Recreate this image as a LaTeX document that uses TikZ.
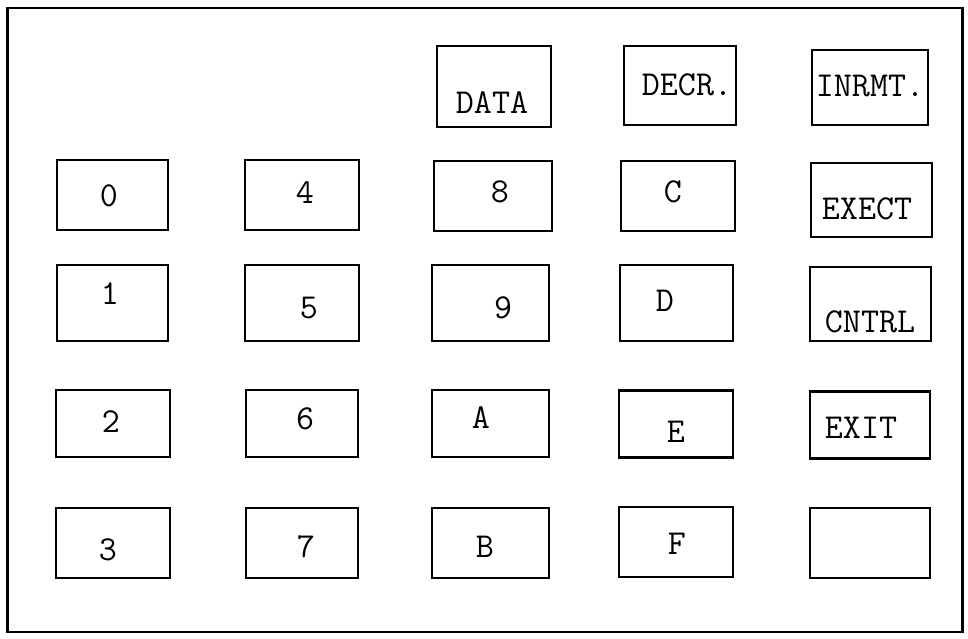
\documentclass[tikz,border=0pt]{standalone}
\begin{document}
\begin{tikzpicture}[x=1pt,y=-1pt,
  keybox/.style={draw, line width=2.3pt, inner sep=0pt, outer sep=0pt},
  keytxt/.style={inner sep=0pt, font=\ttfamily\fontsize{35}{35}\selectfont}]
\useasboundingbox (0,0) rectangle (968,639);
\node[draw, line width=2.8pt, minimum width=955pt, minimum height=624pt, inner sep=0pt] (frame) at (485,320) {};
% top row
\node[keybox, minimum width=114pt, minimum height=81pt] (kdata) at (494,86.5) {};
\node[keybox, minimum width=112pt, minimum height=79pt] (kdecr) at (680,85.5) {};
\node[keybox, minimum width=116pt, minimum height=75pt] (kinrmt) at (870,87.5) {};
% row 1
\node[keybox, minimum width=111pt, minimum height=70pt] (k0) at (112.5,195) {};
\node[keybox, minimum width=114pt, minimum height=70pt] (k4) at (302,195) {};
\node[keybox, minimum width=118pt, minimum height=70pt] (k8) at (493,196) {};
\node[keybox, minimum width=114pt, minimum height=70pt] (kC) at (678,196) {};
\node[keybox, minimum width=121pt, minimum height=74pt] (kexect) at (871.5,200) {};
% row 2
\node[keybox, minimum width=111pt, minimum height=76pt] (k1) at (112.5,303) {};
\node[keybox, minimum width=114pt, minimum height=76pt] (k5) at (302,303) {};
\node[keybox, minimum width=117pt, minimum height=76pt] (k9) at (490.5,303) {};
\node[keybox, minimum width=113pt, minimum height=76pt] (kD) at (676.5,303) {};
\node[keybox, minimum width=121pt, minimum height=74pt] (kcntrl) at (870.5,304) {};
% row 3
\node[keybox, minimum width=114pt, minimum height=67pt] (k2) at (113,423.5) {};
\node[keybox, minimum width=112pt, minimum height=67pt] (k6) at (302,423.5) {};
\node[keybox, minimum width=117pt, minimum height=67pt] (kA) at (490.5,423.5) {};
\node[keybox, minimum width=114pt, minimum height=67pt] (kE) at (676,424) {};
\node[keybox, minimum width=120pt, minimum height=67pt] (kexit) at (870,425) {};
% row 4
\node[keybox, minimum width=114pt, minimum height=70pt] (k3) at (113,543) {};
\node[keybox, minimum width=112pt, minimum height=70pt] (k7) at (302,543) {};
\node[keybox, minimum width=117pt, minimum height=70pt] (kB) at (490.5,543) {};
\node[keybox, minimum width=114pt, minimum height=70pt] (kF) at (676,542) {};
\node[keybox, minimum width=120pt, minimum height=70pt] (kblank) at (870,543) {};
% labels
\node[keytxt] (tdata) at (492,103) {DATA};
\node[keytxt] (tdecr) at (687,85) {DECR.};
\node[keytxt] (tinrmt) at (870,86) {INRMT.};
\node[keytxt] (t0) at (109,196) {0};
\node[keytxt] (t4) at (305,193) {4};
\node[keytxt] (t8) at (500,192) {8};
\node[keytxt] (tC) at (673,192) {C};
\node[keytxt] (texect) at (867,209) {EXECT};
\node[keytxt] (t1) at (110,294) {1};
\node[keytxt] (t5) at (309,308) {5};
\node[keytxt] (t9) at (503,308) {9};
\node[keytxt] (tD) at (665,301) {D};
\node[keytxt] (tcntrl) at (870,322) {CNTRL};
\node[keytxt] (t2) at (111,422) {2};
\node[keytxt] (t6) at (305,419) {6};
\node[keytxt] (tA) at (481,418) {A};
\node[keytxt] (tE) at (676,432) {E};
\node[keytxt] (texit) at (861,428) {EXIT};
\node[keytxt] (t3) at (108,550) {3};
\node[keytxt] (t7) at (306,547) {7};
\node[keytxt] (tB) at (485,547) {B};
\node[keytxt] (tF) at (677,544) {F};
\end{tikzpicture}
\end{document}
